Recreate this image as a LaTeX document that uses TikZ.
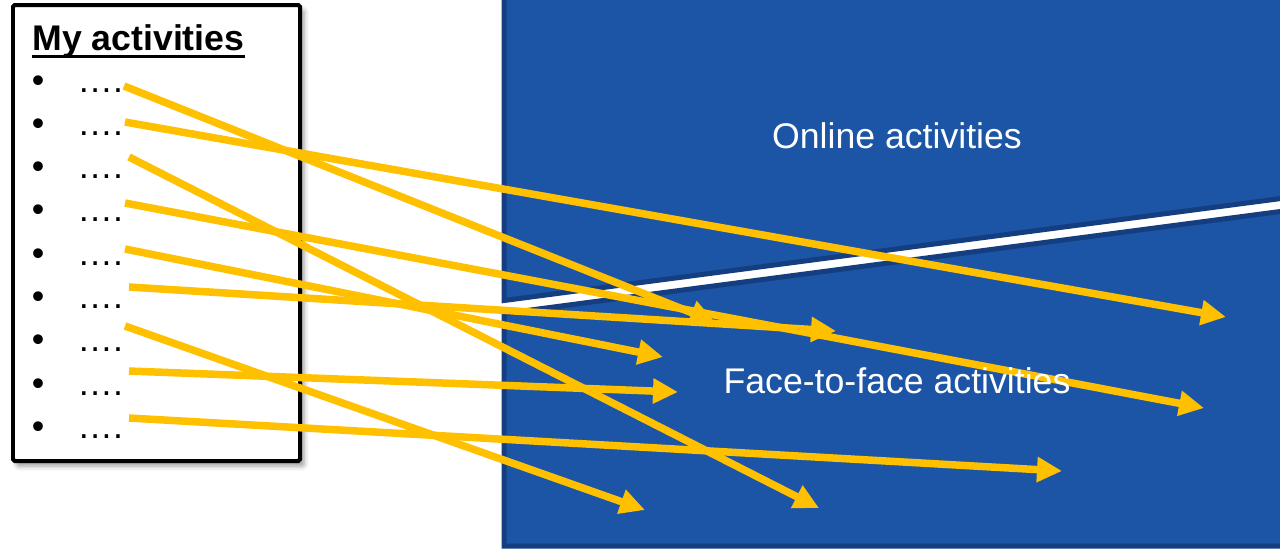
\documentclass[tikz,border=0pt]{standalone}
\usepackage{fontspec}
\setmainfont{Liberation Sans}
\usetikzlibrary{arrows.meta,shadows.blur}
\definecolor{zoneblue}{RGB}{28,85,165}
\definecolor{zoneedge}{RGB}{20,62,128}
\definecolor{gold}{RGB}{255,192,0}

\begin{document}
\begin{tikzpicture}[x = 0.02cm, y = -0.02cm,
    every node/.style = {inner sep = 0pt, font = \fontsize{20.3pt}{24pt}\selectfont},
    zone/.style = {draw = zoneedge, fill = zoneblue, line width = 0.1cm},
    zonetext/.style = {text = white, anchor = base},
    listbox/.style = {draw, fill = white, line width = 0.08cm, rounded corners = 1pt,
        blur shadow = {shadow xshift = 0.08cm, shadow yshift = -0.1cm, shadow blur radius = 0.1cm}},
    pointer/.style = {draw = gold, line width = 0.15cm, -{Triangle[length = 0.5cm, width = 0.48cm]}}]
        \useasboundingbox (0,0) rectangle (1280,549);
        \begin{scope}
            \clip (0,0) rectangle (1280,549);
            \draw[zone] (504,-20) -- (1300,-20) -- (1300,196) -- (504,300.5) -- cycle;
            \draw[zone] (504,313.5) -- (1300,208.9) -- (1300,546) -- (504,546) -- cycle;
        \end{scope}
        \draw[listbox] (13,5) rectangle (300,461);
        \node[anchor = base west, font = \bfseries\fontsize{20.3pt}{24pt}\selectfont] (title) at (32,50) {My activities};
        \draw[line width = 0.06cm] ([yshift = -0.12cm]title.base west) -- ([yshift = -0.12cm]title.base east);
        \foreach \i in {1,...,9} {
            \node[anchor = base] (b\i) at (38, {92 + 43.3*(\i - 1)}) {•};
            \node[anchor = base west] (d\i) at (77, {92 + 43.3*(\i - 1)}) {….};
        }
        \foreach \i/\sx/\sy/\ex/\ey in {1/124/86/715/322, 2/125/122/1226/317, 3/129/157/819/508,
            4/125/203/1204/408, 5/125/249/663/357, 6/129/287/836/331, 7/125/326/645/510,
            8/129/371/678/392, 9/129/418/1062/471} {
            \coordinate (s\i) at (\sx,\sy);
            \coordinate (t\i) at (\ex,\ey);
            \draw[pointer] (s\i) -- (t\i);
        }
        \node[zonetext] (online) at (897,148) {Online activities};
        \node[zonetext] (f2f) at (897,393) {Face-to-face activities};
\end{tikzpicture}
\end{document}
